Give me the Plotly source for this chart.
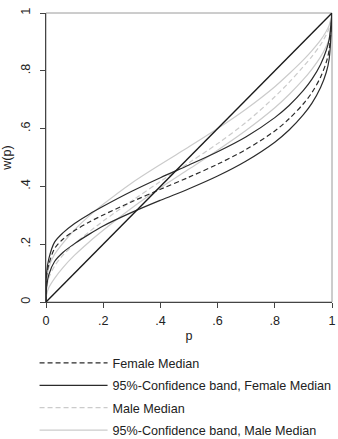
import plotly.graph_objects as go

p = [0, 0.002, 0.01, 0.03, 0.06, 0.1, 0.15, 0.2, 0.3, 0.4, 0.5, 0.6, 0.7, 0.8, 0.85, 0.9, 0.93, 0.96, 0.98, 0.99, 1.0]

female_median = [0, 0.09, 0.13, 0.185, 0.218, 0.247, 0.276, 0.301, 0.347, 0.39, 0.432, 0.477, 0.528, 0.592, 0.634, 0.686, 0.725, 0.778, 0.83, 0.872, 1.0]
female_upper  = [0, 0.10, 0.15, 0.207, 0.24, 0.272, 0.303, 0.331, 0.383, 0.43, 0.474, 0.52, 0.572, 0.638, 0.68, 0.732, 0.771, 0.822, 0.871, 0.908, 1.0]
female_lower  = [0, 0.05, 0.095, 0.14, 0.172, 0.202, 0.234, 0.263, 0.31, 0.352, 0.392, 0.436, 0.488, 0.553, 0.595, 0.648, 0.688, 0.742, 0.795, 0.84, 1.0]
male_median   = [0, 0.045, 0.084, 0.124, 0.163, 0.201, 0.242, 0.28, 0.35, 0.417, 0.482, 0.548, 0.622, 0.71, 0.76, 0.815, 0.85, 0.89, 0.925, 0.948, 1.0]
male_upper    = [0, 0.07, 0.12, 0.165, 0.205, 0.25, 0.297, 0.338, 0.412, 0.476, 0.537, 0.60, 0.668, 0.745, 0.79, 0.838, 0.87, 0.906, 0.937, 0.957, 1.0]
male_lower    = [0, 0.025, 0.05, 0.082, 0.12, 0.162, 0.207, 0.248, 0.325, 0.395, 0.46, 0.525, 0.594, 0.672, 0.718, 0.77, 0.806, 0.848, 0.885, 0.91, 1.0]

diag = [0, 1]

x_ticks = [0, 0.2, 0.4, 0.6, 0.8, 1]
x_tick_labels = ["0", ".2", ".4", ".6", ".8", "1"]
y_ticks = [0, 0.2, 0.4, 0.6, 0.8, 1]
y_tick_labels = ["0", ".2", ".4", ".6", ".8", "1"]

FEM = "#2b2b2b"
MALE = "#cbcbcb"
FONT = "Liberation Sans, Arial, sans-serif"

fig = go.Figure()

spl = dict(shape="spline", smoothing=0.9)

# male curves first (underneath)
fig.add_trace(go.Scatter(x=p, y=male_upper, mode="lines", line=dict(color=MALE, width=1.2, **spl),
                         showlegend=False, legendgroup="d"))
fig.add_trace(go.Scatter(x=p, y=male_lower, mode="lines", line=dict(color=MALE, width=1.2, **spl),
                         showlegend=False, legendgroup="d"))
fig.add_trace(go.Scatter(x=p, y=male_median, mode="lines", line=dict(color=MALE, width=1.2, dash="5px,3px", **spl),
                         showlegend=False, legendgroup="c"))
# female curves
fig.add_trace(go.Scatter(x=p, y=female_upper, mode="lines", line=dict(color=FEM, width=1.2, **spl),
                         showlegend=False, legendgroup="b"))
fig.add_trace(go.Scatter(x=p, y=female_lower, mode="lines", line=dict(color=FEM, width=1.2, **spl),
                         showlegend=False, legendgroup="b"))
fig.add_trace(go.Scatter(x=p, y=female_median, mode="lines", line=dict(color=FEM, width=1.2, dash="5px,3px", **spl),
                         showlegend=False, legendgroup="a"))
# diagonal
fig.add_trace(go.Scatter(x=diag, y=diag, mode="lines", line=dict(color="#1a1a1a", width=1.4), showlegend=False))

# legend entries
legend_entries = [
    ("Female Median", FEM, "5px,3px", "a"),
    ("95%-Confidence band, Female Median", FEM, "solid", "b"),
    ("Male Median", MALE, "5px,3px", "c"),
    ("95%-Confidence band, Male Median", MALE, "solid", "d"),
]
for name, col, dash, grp in legend_entries:
    fig.add_trace(go.Scatter(x=[None], y=[None], mode="lines", name=name, legendgroup=grp,
                             line=dict(color=col, width=1.2, dash=dash)))

fig.update_layout(
    width=338, height=439,
    margin=dict(l=46, r=6, t=13, b=137, autoexpand=False),
    paper_bgcolor="white", plot_bgcolor="white",
    font=dict(family=FONT, size=12, color="#222"),
    showlegend=True,
    legend=dict(x=-0.04, y=-0.16, xanchor="left", yanchor="top", orientation="v",
                tracegroupgap=3, itemwidth=68, font=dict(size=12.6, color="#222"),
                bgcolor="rgba(0,0,0,0)", traceorder="grouped"),
    xaxis=dict(range=[0, 1], tickvals=x_ticks, ticktext=x_tick_labels, ticks="outside", ticklen=5,
               tickcolor="#444", showline=True, linecolor="#444", linewidth=1, showgrid=False, zeroline=False,
               ticklabelstandoff=2,
               title=dict(text="p", standoff=4, font=dict(size=12.6)), tickfont=dict(size=12.6)),
    yaxis=dict(range=[0, 1], tickvals=y_ticks, ticktext=y_tick_labels, ticks="outside", ticklen=5,
               tickcolor="#444", showline=True, linecolor="#444", linewidth=1, showgrid=False, zeroline=False,
               tickangle=-90, ticklabelstandoff=5,
               title=dict(text="w(p)", standoff=6, font=dict(size=12.6)), tickfont=dict(size=12.6)),
    shapes=[dict(type="rect", xref="x domain", yref="y domain", x0=0, x1=1, y0=0, y1=1,
                 line=dict(color="#9a9a9a", width=1), layer="below")],
)

fig.write_html("out.html")
